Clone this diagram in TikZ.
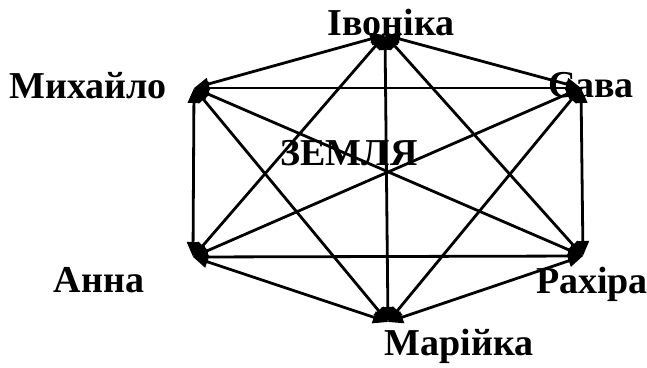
\documentclass[tikz,border=0pt]{standalone}
\usepackage{fontspec}
\setmainfont{Liberation Serif}
\usepackage{tikz}
\usetikzlibrary{arrows.meta}
\tikzset{person/.style={font=\bfseries\fontsize{38}{40}\selectfont, inner sep=0pt, anchor=base}}

\begin{document}
\begin{tikzpicture}[x=1pt,y=-1pt]
\useasboundingbox (0,0) rectangle (647,367);
% labels
\node[person] (livonika) at (391,35) {Івоніка};
\node[person] (lmyhajlo) at (88,98) {Михайло};
\node[person] (lsava) at (591,97) {Сава};
\node[person] (lanna) at (99,292) {Анна};
\node[person] (lrahira) at (592,293) {Рахіра};
\node[person] (lmarijka) at (459,355) {Марійка};
\node[person] (zemlja) at (349,165) {ЗЕМЛЯ};
% points
\coordinate (ivonika) at (385,35);
\coordinate (myhajlo) at (194,88);
\coordinate (sava) at (581,88);
\coordinate (anna) at (193,257);
\coordinate (rahira) at (583,256);
\coordinate (marijka) at (388,322);
\foreach \a/\b in {ivonika/myhajlo,ivonika/sava,ivonika/anna,ivonika/rahira,ivonika/marijka,
  myhajlo/sava,myhajlo/anna,myhajlo/rahira,myhajlo/marijka,
  sava/anna,sava/rahira,sava/marijka,
  anna/rahira,anna/marijka,rahira/marijka}
  \draw[line width=2.8pt, {Triangle[length=15pt,width=12pt]}-{Triangle[length=15pt,width=12pt]}] (\a) -- (\b);
\end{tikzpicture}
\end{document}
